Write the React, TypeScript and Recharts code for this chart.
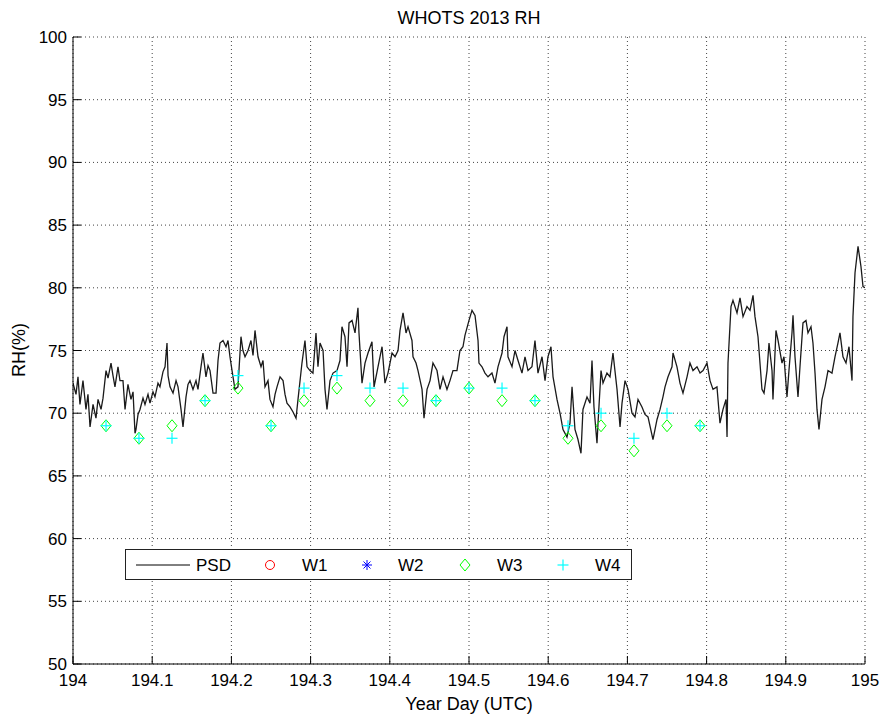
import React from 'react';
import { ComposedChart, Line, Scatter, XAxis, YAxis, CartesianGrid, Legend } from 'recharts';

const xTicks = [194, 194.1, 194.2, 194.3, 194.4, 194.5, 194.6, 194.7, 194.8, 194.9, 195];
const yTicks = [50, 55, 60, 65, 70, 75, 80, 85, 90, 95, 100];

// PSD trace
const psdDay = [
  194.0, 194.0038, 194.0063, 194.0088, 194.0126, 194.0164, 194.0189, 194.0215, 194.0253, 194.029,
  194.0316, 194.0354, 194.0379, 194.0417, 194.0442, 194.048, 194.0505, 194.053, 194.0568, 194.0593,
  194.0631, 194.0657, 194.0694, 194.0732, 194.0758, 194.0783, 194.0795, 194.0821, 194.0846, 194.0884,
  194.0909, 194.0947, 194.0972, 194.101, 194.1035, 194.1073, 194.1098, 194.1136, 194.1162, 194.1187,
  194.12, 194.1225, 194.1263, 194.1301, 194.1326, 194.1364, 194.1389, 194.1427, 194.1452, 194.1477,
  194.1515, 194.1553, 194.1578, 194.1616, 194.1641, 194.1679, 194.1705, 194.173, 194.1768, 194.1806,
  194.1831, 194.1856, 194.1894, 194.1932, 194.1957, 194.1982, 194.2008, 194.2045, 194.2083, 194.2121,
  194.2146, 194.2172, 194.221, 194.2247, 194.2273, 194.2298, 194.2336, 194.2374, 194.2399, 194.2424,
  194.2462, 194.2487, 194.2525, 194.2551, 194.2576, 194.2614, 194.2652, 194.2677, 194.2702, 194.274,
  194.2778, 194.2816, 194.2841, 194.2891, 194.2929, 194.2955, 194.2992, 194.303, 194.3068, 194.3093,
  194.3119, 194.3157, 194.3182, 194.3207, 194.3245, 194.3283, 194.3333, 194.3371, 194.3396, 194.3434,
  194.346, 194.3485, 194.3523, 194.3561, 194.3598, 194.3611, 194.3649, 194.3687, 194.3725, 194.3775,
  194.3801, 194.3851, 194.3902, 194.3939, 194.3977, 194.4028, 194.4066, 194.4104, 194.4129, 194.4167,
  194.4205, 194.423, 194.428, 194.4293, 194.4331, 194.4356, 194.4407, 194.4432, 194.447, 194.4508,
  194.4545, 194.4596, 194.4634, 194.4672, 194.4722, 194.476, 194.4798, 194.4848, 194.4886, 194.4924,
  194.4949, 194.5, 194.5038, 194.5076, 194.5114, 194.5126, 194.5164, 194.5202, 194.524, 194.529,
  194.5328, 194.5366, 194.5417, 194.5442, 194.548, 194.5492, 194.5543, 194.5581, 194.5619, 194.5669,
  194.5707, 194.5745, 194.5795, 194.5833, 194.5871, 194.5922, 194.596, 194.5997, 194.6035, 194.6061,
  194.6111, 194.6149, 194.6187, 194.6237, 194.6275, 194.6301, 194.6338, 194.6376, 194.6414, 194.6439,
  194.649, 194.6528, 194.6553, 194.6578, 194.6616, 194.6629, 194.6667, 194.6692, 194.6742, 194.678,
  194.6818, 194.6869, 194.6907, 194.6932, 194.697, 194.7008, 194.7058, 194.7096, 194.7134, 194.7184,
  194.7222, 194.726, 194.7323, 194.7374, 194.7412, 194.7449, 194.7475, 194.7513, 194.7563, 194.7576,
  194.7626, 194.7664, 194.7702, 194.7753, 194.779, 194.7828, 194.7879, 194.7917, 194.7955, 194.8005,
  194.8043, 194.8081, 194.8131, 194.8169, 194.8207, 194.8245, 194.8258, 194.827, 194.8308, 194.8333,
  194.8384, 194.8422, 194.846, 194.851, 194.8548, 194.8586, 194.8611, 194.8649, 194.8699, 194.8725,
  194.8763, 194.8788, 194.8826, 194.8838, 194.8876, 194.8902, 194.8952, 194.8977, 194.9015, 194.904,
  194.9078, 194.9091, 194.9116, 194.9154, 194.9179, 194.9217, 194.9255, 194.928, 194.9318, 194.9343,
  194.9369, 194.9394, 194.9419, 194.9457, 194.9495, 194.9533, 194.9583, 194.9621, 194.9659, 194.9684,
  194.9722, 194.976, 194.9798, 194.9836, 194.9848, 194.9874, 194.9912, 194.9949, 194.9975, 195.0,
];
const psdRh = [
  72.4, 71.5, 72.9, 70.7, 72.6, 70.3, 71.5, 68.9, 70.7, 69.6,
  71.1, 70.3, 71.2, 73.4, 72.8, 74.0, 73.0, 72.1, 73.7, 72.6,
  72.6, 70.3, 72.3, 71.1, 71.7, 68.4, 68.7, 69.9, 70.3, 71.2,
  70.7, 71.5, 70.8, 71.7, 71.3, 72.4, 72.1, 73.3, 73.7, 75.6,
  73.0, 72.1, 71.6, 72.6, 72.1, 70.3, 68.9, 71.3, 72.3, 72.6,
  71.9, 72.6, 71.9, 73.7, 74.8, 72.9, 73.8, 73.4, 71.6, 71.6,
  74.2, 75.6, 75.8, 75.3, 75.8, 74.5, 73.4, 71.9, 72.1, 76.1,
  75.0, 74.5, 75.0, 75.8, 74.6, 76.6, 74.5, 73.7, 74.2, 72.1,
  72.6, 71.1, 70.5, 71.5, 72.1, 72.9, 72.6, 71.5, 70.8, 70.5,
  70.1, 69.6, 71.1, 74.0, 75.8, 73.7, 73.4, 73.2, 76.4, 73.7,
  75.6, 75.0, 71.9, 70.3, 72.6, 73.2, 73.4, 74.2, 76.9, 76.1,
  73.7, 77.2, 77.4, 76.4, 78.4, 76.4, 72.4, 74.0, 74.8, 75.7,
  72.1, 73.7, 75.3, 72.4, 73.2, 74.8, 74.5, 75.0, 76.6, 78.0,
  76.4, 76.9, 75.8, 74.5, 74.0, 73.4, 71.9, 69.6, 71.9, 72.6,
  74.0, 73.4, 71.9, 72.9, 71.9, 72.6, 73.4, 73.4, 75.0, 75.3,
  76.2, 77.4, 78.2, 77.8, 75.8, 74.0, 73.7, 73.2, 72.9, 73.2,
  72.4, 73.7, 74.8, 76.1, 76.9, 74.5, 73.7, 75.0, 74.2, 73.2,
  74.5, 73.4, 73.7, 75.8, 73.2, 74.5, 72.6, 74.5, 75.3, 72.9,
  71.1, 70.0, 68.7, 68.1, 69.2, 72.1, 68.7, 67.9, 66.8, 70.3,
  71.3, 70.8, 74.2, 70.5, 67.6, 69.2, 73.4, 72.4, 73.2, 72.9,
  74.8, 71.9, 68.9, 70.8, 72.6, 71.9, 70.0, 69.7, 71.1, 70.5,
  69.9, 69.7, 67.9, 69.5, 70.3, 71.3, 72.1, 72.9, 73.7, 74.8,
  73.7, 72.4, 71.6, 72.9, 74.0, 73.4, 73.7, 73.2, 73.4, 74.0,
  72.6, 71.9, 72.1, 69.2, 70.3, 71.1, 68.1, 74.0, 78.5, 79.0,
  78.0, 79.2, 77.7, 78.5, 78.2, 79.4, 77.7, 76.1, 71.9, 71.6,
  73.4, 75.6, 73.4, 71.1, 76.6, 75.8, 74.0, 74.5, 71.3, 73.4,
  76.4, 77.8, 74.5, 71.3, 73.7, 77.2, 77.4, 76.4, 76.9, 75.6,
  73.2, 70.3, 68.7, 71.1, 72.1, 73.4, 73.2, 74.5, 75.6, 76.4,
  74.5, 74.0, 75.3, 72.6, 77.7, 81.2, 83.3, 81.7, 80.1, 80.0,
];

// hourly samples
const sampleDay = [
  194.0417, 194.0833, 194.125, 194.1667, 194.2083, 194.25, 194.2917, 194.3333, 194.375, 194.4167,
  194.4583, 194.5, 194.5417, 194.5833, 194.625, 194.6667, 194.7083, 194.75, 194.7917,
];
const w1Rh: number[] = [];
const w2Rh: number[] = [];
const w3Rh = [69, 68, 69, 71, 72, 69, 71, 72, 71, 71, 71, 72, 71, 71, 68, 69, 67, 69, 69];
const w4Rh = [69, 68, 68, 71, 73, 69, 72, 73, 72, 72, 71, 72, 72, 71, 69, 70, 68, 70, 69];

const psdData = psdDay.map((d, i) => ({ day: d, rh: psdRh[i] }));
const toRows = (vals: number[]) => vals.map((v, i) => ({ day: sampleDay[i], rh: v }));

const FONT = '"Liberation Sans", Arial, sans-serif';
const GREEN = '#00ff00';
const CYAN = '#00ffff';

const Diamond = (props: any) => {
  const { cx, cy } = props;
  return (
    <polygon
      points={`${cx},${cy - 6} ${cx + 5},${cy} ${cx},${cy + 6} ${cx - 5},${cy}`}
      fill="none"
      stroke={GREEN}
      strokeWidth={1}
    />
  );
};

const Plus = (props: any) => {
  const { cx, cy } = props;
  return (
    <g stroke={CYAN} strokeWidth={1.2}>
      <line x1={cx - 5.5} x2={cx + 5.5} y1={cy} y2={cy} />
      <line x1={cx} x2={cx} y1={cy - 5.5} y2={cy + 5.5} />
    </g>
  );
};

const renderLegend = () => {
  const ty = 21;
  return (
    <div style={{ width: 505, height: 29, border: '1px solid #222', background: '#fff' }}>
      <svg width={505} height={29} style={{ display: 'block', fontFamily: FONT }}>
        <line x1={10} x2={64} y1={15} y2={15} stroke="#000" />
        <text x={70} y={ty} fontSize={17} fill="#000">PSD</text>
        <circle cx={144} cy={15} r={4.5} fill="none" stroke="#ff0000" />
        <text x={176} y={ty} fontSize={17} fill="#000">W1</text>
        <g stroke="#0000ff" strokeWidth={1}>
          <line x1={236} x2={246} y1={15} y2={15} />
          <line x1={241} x2={241} y1={10} y2={20} />
          <line x1={237.5} x2={244.5} y1={11.5} y2={18.5} />
          <line x1={237.5} x2={244.5} y1={18.5} y2={11.5} />
        </g>
        <text x={272} y={ty} fontSize={17} fill="#000">W2</text>
        <polygon points="339,9 344,15 339,21 334,15" fill="none" stroke={GREEN} />
        <text x={371} y={ty} fontSize={17} fill="#000">W3</text>
        <g stroke={CYAN} strokeWidth={1.2}>
          <line x1={431.5} x2={442.5} y1={15} y2={15} />
          <line x1={437} x2={437} y1={9.5} y2={20.5} />
        </g>
        <text x={469} y={ty} fontSize={17} fill="#000">W4</text>
      </svg>
    </div>
  );
};

const tickStyle = { fill: '#000', fontSize: 17, fontFamily: FONT };

export default function App() {
  return (
    <div style={{ width: 884, height: 717, background: '#fff', fontFamily: FONT }}>
      <style>{'body { margin: 0; }'}</style>
      <div style={{ position: 'absolute', left: 8, top: 8, width: 876, height: 709 }}>
        <div style={{ position: 'absolute', left: 65, width: 792, top: 1, textAlign: 'center', fontSize: 18, lineHeight: '18px' }}>
          WHOTS 2013 RH
        </div>
        <ComposedChart width={876} height={709} margin={{ top: 29, right: 19, left: 0, bottom: 0 }}>
          <CartesianGrid stroke="#444" strokeDasharray="1 3" />
          <XAxis
            type="number"
            dataKey="day"
            domain={[194, 195]}
            ticks={xTicks}
            interval={0}
            height={53}
            tickSize={-8}
            tickMargin={18}
            tick={tickStyle}
            stroke="#000"
            allowDataOverflow
          />
          <XAxis
            xAxisId="top"
            orientation="top"
            type="number"
            domain={[194, 195]}
            ticks={xTicks}
            interval={0}
            height={0}
            tickSize={-8}
            tick={false}
            stroke="#000"
            allowDataOverflow
          />
          <YAxis
            type="number"
            dataKey="rh"
            domain={[50, 100]}
            ticks={yTicks}
            interval={0}
            width={65}
            tickSize={-8}
            tickMargin={14}
            tick={tickStyle}
            stroke="#000"
            allowDataOverflow
          />
          <YAxis
            yAxisId="right"
            orientation="right"
            type="number"
            domain={[50, 100]}
            ticks={yTicks}
            interval={0}
            width={0}
            tickSize={-8}
            tick={false}
            stroke="#000"
            allowDataOverflow
          />
          <Line
            data={psdData}
            dataKey="rh"
            name="PSD"
            stroke="#1a1a1a"
            strokeWidth={1.3}
            dot={false}
            isAnimationActive={false}
          />
          <Scatter data={toRows(w1Rh)} dataKey="rh" name="W1" isAnimationActive={false} />
          <Scatter data={toRows(w2Rh)} dataKey="rh" name="W2" isAnimationActive={false} />
          <Scatter data={toRows(w3Rh)} dataKey="rh" name="W3" shape={Diamond} isAnimationActive={false} />
          <Scatter data={toRows(w4Rh)} dataKey="rh" name="W4" shape={Plus} isAnimationActive={false} />
          <Legend
            layout="horizontal"
            verticalAlign="middle"
            align="center"
            wrapperStyle={{ position: 'absolute', left: 117, top: 541, width: 507, height: 31 }}
            content={renderLegend}
          />
        </ComposedChart>
        <div style={{ position: 'absolute', left: 65, width: 792, top: 687, textAlign: 'center', fontSize: 18, lineHeight: '18px' }}>
          Year Day (UTC)
        </div>
        <div
          style={{
            position: 'absolute',
            left: -39,
            top: 332,
            width: 100,
            height: 20,
            lineHeight: '20px',
            textAlign: 'center',
            fontSize: 18,
            transform: 'rotate(-90deg)',
          }}
        >
          RH(%)
        </div>
      </div>
    </div>
  );
}
